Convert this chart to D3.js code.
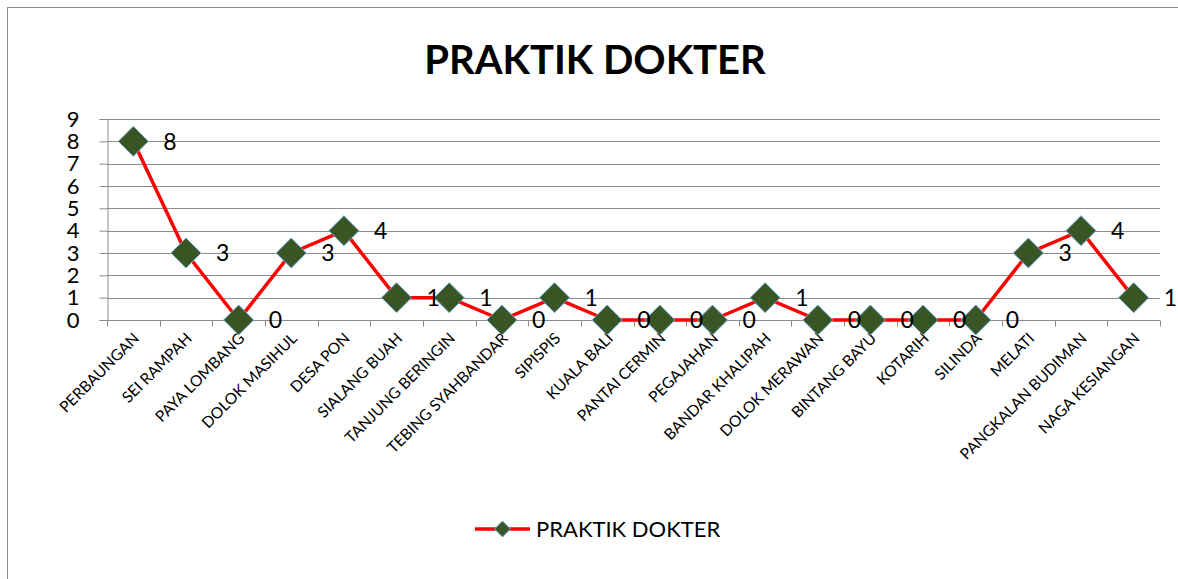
<!DOCTYPE html>
<html>
<head>
<meta charset="utf-8">
<script src="https://cdn.jsdelivr.net/npm/d3@7"></script>
<style>
  body { margin: 0; background: #fff; }
  text { font-family: Lato, "Open Sans", sans-serif; fill: #000; }
</style>
</head>
<body>
<script>
    var categories = ["PERBAUNGAN", "SEI RAMPAH", "PAYA LOMBANG", "DOLOK MASIHUL", "DESA PON",
        "SIALANG BUAH", "TANJUNG BERINGIN", "TEBING SYAHBANDAR", "SIPISPIS", "KUALA BALI",
        "PANTAI CERMIN", "PEGAJAHAN", "BANDAR KHALIPAH", "DOLOK MERAWAN", "BINTANG BAYU",
        "KOTARIH", "SILINDA", "MELATI", "PANGKALAN BUDIMAN", "NAGA KESIANGAN"];
    var values = [8, 3, 0, 3, 4, 1, 1, 0, 1, 0, 0, 0, 1, 0, 0, 0, 0, 3, 4, 1];
    var yTicks = [0, 1, 2, 3, 4, 5, 6, 7, 8, 9];
    var seriesName = "PRAKTIK DOKTER";

    var width = 1178, height = 579,
        plotLeft = 107, plotRight = 1160,
        plotTop = 119, plotBottom = 320;

    var svg = d3.select("body").append("svg")
        .attr("width", width)
        .attr("height", height);

    // chart area border
    svg.append("rect")
        .attr("x", 7.5).attr("y", 7.5)
        .attr("width", width + 20).attr("height", height + 20)
        .style("fill", "none")
        .style("stroke", "#8c8c8c")
        .style("stroke-width", 1);

    var x = d3.scaleBand()
        .domain(categories)
        .range([plotLeft, plotRight]);

    var y = d3.scaleLinear()
        .domain([0, 9])
        .range([plotBottom, plotTop]);

    // gridlines
    svg.append("g")
        .selectAll("line")
        .data(yTicks)
        .enter().append("line")
        .attr("x1", plotLeft).attr("x2", plotRight)
        .attr("y1", function (d) { return Math.round(y(d)) + 0.5; })
        .attr("y2", function (d) { return Math.round(y(d)) + 0.5; })
        .style("stroke", "#8c8c8c")
        .style("stroke-width", 1);

    // y axis
    var yAxis = svg.append("g")
        .attr("transform", "translate(" + (plotLeft + 0.5) + ",0)")
        .call(d3.axisLeft(y).tickValues(yTicks).tickSize(8).tickPadding(20));
    yAxis.selectAll("line, path").style("stroke", "#8c8c8c");
    yAxis.selectAll("text")
        .style("font-size", "22px")
        .style("font-family", "Lato, 'Open Sans', sans-serif");

    // x axis with ticks at category boundaries
    var xAxis = svg.append("g")
        .attr("transform", "translate(0," + (Math.round(y(0)) + 0.5) + ")");
    xAxis.append("line")
        .attr("x1", plotLeft).attr("x2", plotRight)
        .style("stroke", "#8c8c8c");
    var bounds = categories.map(function (c) { return x(c); }).concat([plotRight]);
    xAxis.selectAll(".tk")
        .data(bounds)
        .enter().append("line")
        .attr("x1", function (d) { return Math.round(d) + 0.5; })
        .attr("x2", function (d) { return Math.round(d) + 0.5; })
        .attr("y1", 0).attr("y2", 6)
        .style("stroke", "#8c8c8c");

    xAxis.selectAll(".lbl")
        .data(categories)
        .enter().append("text")
        .attr("transform", function (d) {
            return "translate(" + (x(d) + x.bandwidth() / 2 + 3) + ",15) rotate(-45)";
        })
        .attr("text-anchor", "end")
        .attr("dy", "0.35em")
        .style("font-size", "15.5px")
        .text(function (d) { return d; });

    // line
    var line = d3.line()
        .x(function (d, i) { return x(categories[i]) + x.bandwidth() / 2; })
        .y(function (d) { return y(d); });

    svg.append("path")
        .datum(values)
        .attr("d", line)
        .style("fill", "none")
        .style("stroke", "#ff0000")
        .style("stroke-width", 3.5)
        .style("stroke-linejoin", "round");

    var diamond = function (r) {
        return "M0," + (-r) + "L" + r + ",0L0," + r + "L" + (-r) + ",0Z";
    };

    svg.append("g")
        .selectAll("path")
        .data(values)
        .enter().append("path")
        .attr("d", diamond(15))
        .attr("transform", function (d, i) {
            return "translate(" + (x(categories[i]) + x.bandwidth() / 2) + "," + y(d) + ")";
        })
        .style("fill", "#375623")
        .style("stroke", "#6fa8dc")
        .style("stroke-width", 1);

    // data labels
    svg.append("g")
        .selectAll("text")
        .data(values)
        .enter().append("text")
        .attr("x", function (d, i) { return x(categories[i]) + x.bandwidth() / 2 + 30; })
        .attr("y", function (d) { return y(d); })
        .attr("dy", "0.36em")
        .style("font-size", "23px")
        .text(function (d) { return d; });

    // title
    svg.append("text")
        .attr("x", 595)
        .attr("y", 74)
        .attr("text-anchor", "middle")
        .style("font-size", "40px")
        .style("font-weight", "bold")
        .text(seriesName);

    // legend
    var legend = svg.append("g").attr("transform", "translate(475,529)");
    legend.append("line")
        .attr("x1", 0).attr("x2", 55)
        .style("stroke", "#ff0000")
        .style("stroke-width", 3.5);
    legend.append("path")
        .attr("d", diamond(8))
        .attr("transform", "translate(27.5,0)")
        .style("fill", "#375623")
        .style("stroke", "#6fa8dc");
    legend.append("text")
        .attr("x", 61)
        .attr("dy", "0.36em")
        .style("font-size", "22px")
        .text(seriesName);
</script>
</body>
</html>
